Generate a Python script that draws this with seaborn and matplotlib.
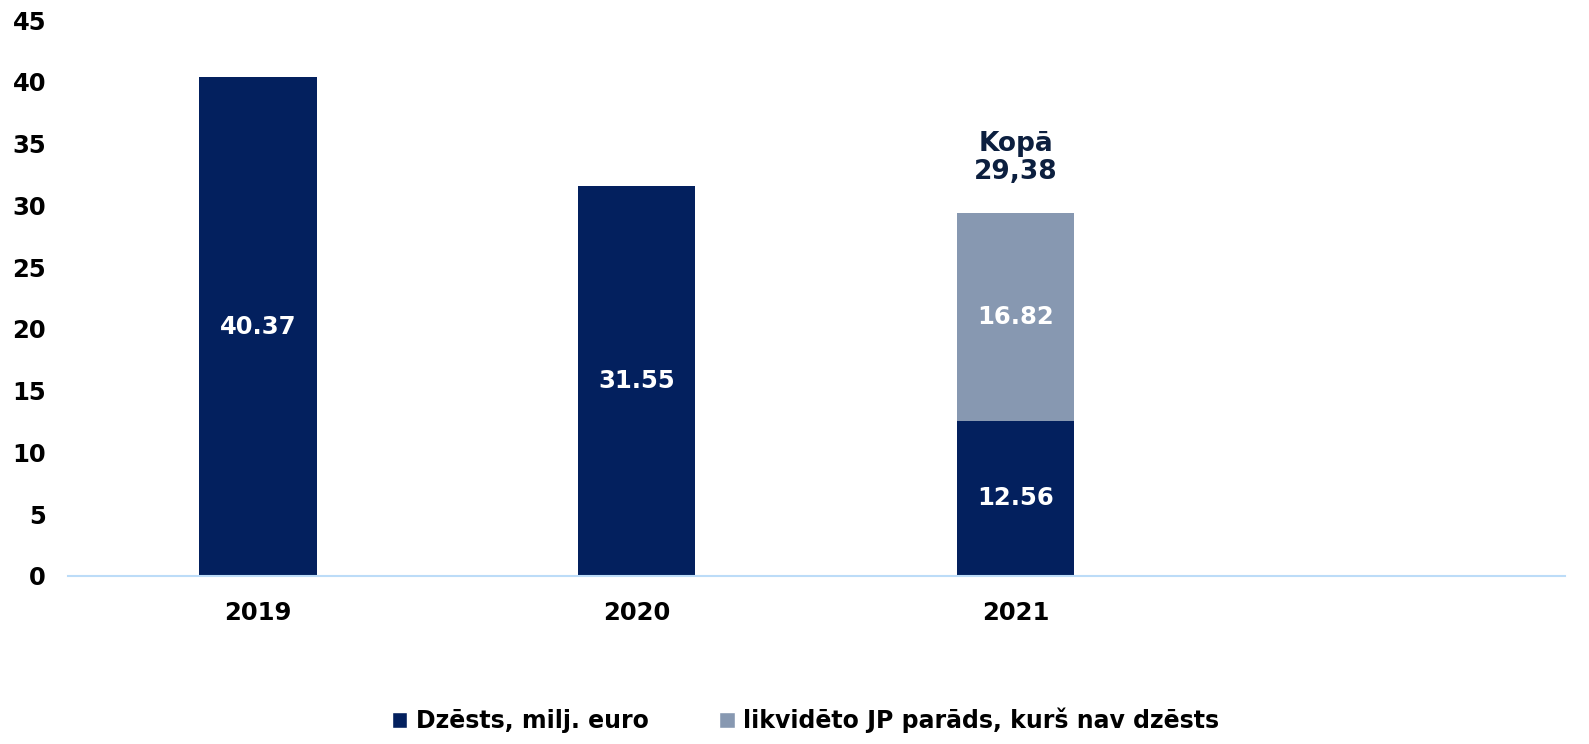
import numpy as np
import pandas as pd
import matplotlib
matplotlib.use("Agg")
import matplotlib.pyplot as plt
import seaborn as sns
from matplotlib.patches import Patch

# Data
years = ["2019", "2020", "2021", ""]
dzests = [40.37, 31.55, 12.56, np.nan]
likvideto = [0.0, 0.0, 16.82, np.nan]
legend_labels = ["Dzēsts, milj. euro", "likvidēto JP parāds, kurš nav dzēsts"]

dark = "#03205e"
light = "#8798b1"
axis_col = "#bcdcf8"

df = pd.DataFrame({"year": years, "dzests": dzests, "likvideto": likvideto})
df["total"] = df["dzests"] + df["likvideto"]

sns.set_style("white")
plt.rcParams["font.family"] = ["DejaVu Sans"]
plt.rcParams["font.weight"] = "bold"
plt.rcParams["text.color"] = "black"
plt.rcParams["xtick.color"] = "black"
plt.rcParams["ytick.color"] = "black"

fig = plt.figure(figsize=(15.89, 7.44), dpi=100)
ax = fig.add_axes([0.043, 0.226, 0.942, 0.747])

# stacked bars: draw totals in light colour, then the dark part on top
sns.barplot(data=df, x="year", y="total", order=years, color=light,
            width=0.31, saturation=1, ax=ax, errorbar=None, linewidth=0)
sns.barplot(data=df, x="year", y="dzests", order=years, color=dark,
            width=0.31, saturation=1, ax=ax, errorbar=None, linewidth=0)

ax.set_ylim(0, 45)
ax.set_xlim(-0.5, 3.45)
ax.set_yticks(range(0, 46, 5))
ax.set_xlabel("")
ax.set_ylabel("")
for s in ["top", "right", "left"]:
    ax.spines[s].set_visible(False)
ax.spines["bottom"].set_color(axis_col)
ax.spines["bottom"].set_linewidth(1.5)
ax.tick_params(axis="both", length=0, labelsize=17.5, colors="black")
ax.tick_params(axis="x", pad=18)
ax.tick_params(axis="y", pad=16)
for lbl in ax.get_xticklabels() + ax.get_yticklabels():
    lbl.set_fontweight("bold")

# value labels
for i, row in df.iterrows():
    if np.isnan(row["dzests"]):
        continue
    ax.text(i, row["dzests"] / 2, f"{row['dzests']:.2f}", ha="center", va="center",
            color="white", fontsize=17.5, fontweight="bold")
    if row["likvideto"] > 0:
        ax.text(i, row["dzests"] + row["likvideto"] / 2, f"{row['likvideto']:.2f}",
                ha="center", va="center", color="white", fontsize=17.5, fontweight="bold")
        ax.text(i, row["total"] + 2.3, "Kopā\n" + f"{row['total']:.2f}".replace(".", ","),
                ha="center", va="bottom", color="#0c1f3f", fontsize=19,
                fontweight="bold", linespacing=1.1)

handles = [Patch(facecolor=dark), Patch(facecolor=light)]
fig.legend(handles, legend_labels, loc="center", bbox_to_anchor=(0.507, 0.032),
           ncol=2, frameon=False, handlelength=0.65, handleheight=0.65,
           handletextpad=0.35, columnspacing=3.0,
           prop={"weight": "bold", "size": 17})

fig.savefig("out.png", dpi=100)
